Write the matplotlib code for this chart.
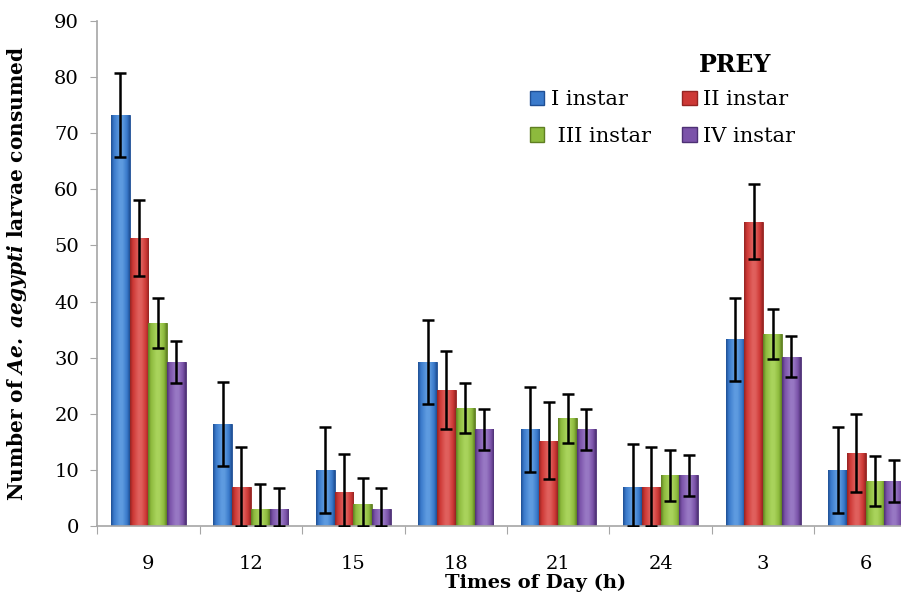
import numpy as np
import matplotlib
matplotlib.use("Agg")
from matplotlib import pyplot as plt
from matplotlib.colors import LinearSegmentedColormap
from matplotlib.patches import Patch

plt.rcParams['font.family'] = ['DejaVu Serif']
plt.rcParams['mathtext.fontset'] = 'custom'
plt.rcParams['mathtext.bfit'] = 'DejaVu Serif:italic:bold'
plt.rcParams['mathtext.it'] = 'DejaVu Serif:italic'
plt.rcParams['mathtext.bf'] = 'DejaVu Serif:bold'

# data
times = ["9", "12", "15", "18", "21", "24", "3", "6"]
series = ["I instar", "II instar", " III instar", "IV instar"]

inst1 = [73.2, 18.2, 10.0, 29.2, 17.2, 7.0, 33.3, 10.0]
inst2 = [51.3, 7.0, 6.0, 24.2, 15.2, 7.0, 54.2, 13.0]
inst3 = [36.2, 3.0, 4.0, 21.0, 19.2, 9.0, 34.2, 8.0]
inst4 = [29.2, 3.0, 3.0, 17.2, 17.2, 9.0, 30.2, 8.0]

err1 = [7.5, 7.5, 7.7, 7.5, 7.5, 7.6, 7.4, 7.6]
err2 = [6.8, 7.0, 6.8, 7.0, 6.9, 7.0, 6.7, 7.0]
err3 = [4.5, 4.5, 4.5, 4.5, 4.4, 4.5, 4.5, 4.4]
err4 = [3.8, 3.8, 3.8, 3.7, 3.7, 3.6, 3.7, 3.7]

values = [inst1, inst2, inst3, inst4]
errors = [err1, err2, err3, err4]

# (dark edge, base, highlight)
palette = [
    ("#1f4f94", "#3a7acb", "#5e9be0"),
    ("#952422", "#cd3835", "#e0605d"),
    ("#5f7f22", "#8dba3d", "#a9d35c"),
    ("#4e3175", "#7b53a9", "#9878c4"),
]

fig = plt.figure(figsize=(9.01, 5.99), dpi=100)
ax = fig.add_axes([0.1077, 0.1219, 0.910, 0.843])

x = np.arange(len(times))
width = 0.183
offsets = (np.arange(4) - 1.5) * width

grad = np.linspace(0, 1, 64).reshape(1, -1)
for vals, errs, off, (dark, base, light) in zip(values, errors, offsets, palette):
    cmap = LinearSegmentedColormap.from_list(
        "bevel", [(0, dark), (0.15, base), (0.45, light), (0.6, light),
                  (0.85, base), (1, dark)])
    bars = ax.bar(x + off, vals, width, color=base, edgecolor=dark,
                  linewidth=0.6, zorder=2)
    for bar in bars:
        x0 = bar.get_x()
        im = ax.imshow(grad, extent=[x0, x0 + bar.get_width(), 0,
                                     bar.get_height()],
                       aspect='auto', cmap=cmap, zorder=2.1,
                       interpolation='bilinear')
        im.set_clip_path(bar)
    vals = np.array(vals)
    errs = np.array(errs)
    lower = np.minimum(errs, vals)
    ax.errorbar(x + off, vals, yerr=[lower, errs], fmt='none',
                ecolor='black', elinewidth=1.8, capsize=4.5, capthick=1.8,
                zorder=3)

ax.set_xlim(-0.5, len(times) - 0.5)
ax.set_ylim(0, 90)
ax.set_yticks(np.arange(0, 91, 10))

ax.set_xticks(np.arange(len(times) + 1) - 0.5)
ax.set_xticklabels([])
ax.set_xticks(x, minor=True)
ax.set_xticklabels(times, minor=True)
ax.tick_params(axis='x', which='minor', length=0, pad=21, labelsize=14)
ax.tick_params(axis='x', which='major', length=6, color='#a6a6a6')
ax.tick_params(axis='y', length=5, color='#a6a6a6', pad=8, labelsize=14)

for side in ['top', 'right']:
    ax.spines[side].set_visible(False)
for side in ['left', 'bottom']:
    ax.spines[side].set_color('#a6a6a6')
    ax.spines[side].set_linewidth(1.2)

ax.set_xlabel("Times of Day (h)", fontsize=14, fontweight='bold')
ax.xaxis.set_label_coords(0.535, -0.095)
ax.set_ylabel(r"Number of $\mathbfit{Ae.\ aegypti}$ larvae consumed",
              fontsize=14.5, fontweight='bold')
ax.yaxis.set_label_coords(-0.083, 0.5)

# legend is filled column by column, reorder so rows read I, II / III, IV
handles = [Patch(facecolor=p[1], edgecolor=p[0]) for p in palette]
order = [0, 2, 1, 3]
ax.legend([handles[i] for i in order], [series[i] for i in order],
          ncol=2, frameon=False, fontsize=15,
          loc='upper left', bbox_to_anchor=(0.505, 0.9),
          handlelength=0.7, handleheight=0.7, handletextpad=0.3,
          columnspacing=1.5, labelspacing=0.85)
ax.text(0.778, 0.913, "PREY", transform=ax.transAxes, fontsize=17,
        fontweight='bold', ha='center', va='center')

fig.savefig("out.png", dpi=100)
